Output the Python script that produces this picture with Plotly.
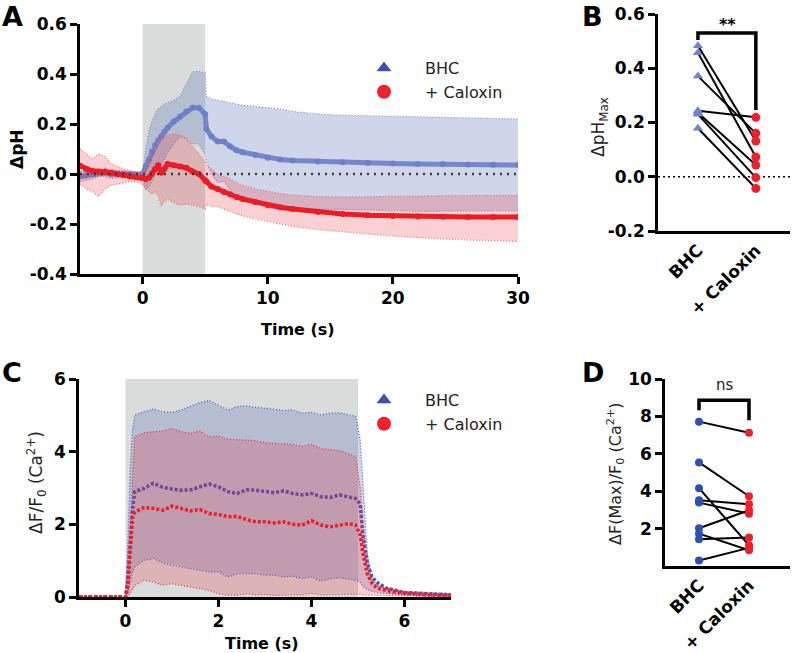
import plotly.graph_objects as go

# ---------------- data ----------------
# Panel A: dpH over time, mean with SEM band
a_time = [-5, -4.5, -4, -3.5, -3, -2.5, -2, -1.5, -1, -0.5, 0, 0.25, 0.5, 0.75, 1, 1.25,
          1.5, 1.75, 2, 2.5, 3, 3.5, 4, 4.5, 5, 5.1, 5.5, 6, 6.5, 7, 7.5, 8, 9, 10, 11, 12,
          14, 16, 18, 20, 22, 24, 26, 28, 30]
a_bhc_mean = [-0.01, -0.005, 0.0, 0.005, 0.005, 0.0, 0.0, 0.0, -0.005, -0.005, 0.0, 0.03, 0.055,
              0.09, 0.115, 0.135, 0.15, 0.17, 0.185, 0.21, 0.23, 0.25, 0.265, 0.265, 0.24, 0.18,
              0.15, 0.13, 0.13, 0.11, 0.095, 0.087, 0.076, 0.065, 0.058, 0.054, 0.05, 0.047,
              0.044, 0.042, 0.04, 0.04, 0.038, 0.037, 0.036]
a_bhc_hi = [0.01, 0.015, 0.02, 0.02, 0.02, 0.018, 0.015, 0.012, 0.01, 0.008, 0.005, 0.1, 0.17,
            0.21, 0.24, 0.26, 0.27, 0.28, 0.285, 0.295, 0.31, 0.36, 0.41, 0.41, 0.405, 0.31,
            0.30, 0.295, 0.29, 0.285, 0.28, 0.275, 0.27, 0.265, 0.26, 0.25, 0.24, 0.235, 0.233,
            0.23, 0.23, 0.228, 0.225, 0.222, 0.22]
a_bhc_lo = [-0.03, -0.025, -0.02, -0.01, -0.01, -0.018, -0.015, -0.012, -0.02, -0.018, -0.005,
            -0.06, -0.05, -0.03, 0.0, 0.01, 0.03, 0.06, 0.085, 0.12, 0.15, 0.14, 0.12, 0.12,
            0.075, 0.05, 0.0, -0.035, -0.03, -0.065, -0.09, -0.10, -0.118, -0.135, -0.144,
            -0.142, -0.14, -0.141, -0.145, -0.146, -0.15, -0.148, -0.149, -0.148, -0.148]
a_cal_mean = [0.033, 0.02, 0.012, 0.01, 0.01, 0.005, 0.0, -0.005, -0.01, -0.013, -0.015, -0.02,
              -0.015, 0.0, 0.02, 0.035, 0.005, 0.02, 0.04, 0.035, 0.03, 0.025, 0.01, 0.0, -0.025,
              -0.03, -0.05, -0.06, -0.072, -0.082, -0.092, -0.1, -0.112, -0.124, -0.133, -0.14,
              -0.152, -0.16, -0.165, -0.168, -0.17, -0.171, -0.172, -0.172, -0.172]
a_cal_hi = [0.10, 0.08, 0.06, 0.08, 0.07, 0.04, 0.03, 0.02, 0.015, 0.008, 0.0, 0.02, 0.06, 0.09,
            0.10, 0.12, 0.14, 0.15, 0.155, 0.16, 0.155, 0.14, 0.11, 0.08, 0.05, 0.035, 0.02,
            0.0, -0.01, -0.02, -0.035, -0.045, -0.06, -0.07, -0.078, -0.084, -0.09, -0.092,
            -0.09, -0.09, -0.088, -0.087, -0.086, -0.085, -0.085]
a_cal_lo = [-0.04, -0.06, -0.07, -0.09, -0.06, -0.045, -0.04, -0.035, -0.03, -0.03, -0.04, -0.06,
            -0.07, -0.08, -0.07, -0.09, -0.13, -0.11, -0.10, -0.115, -0.125, -0.12, -0.125,
            -0.13, -0.14, -0.12, -0.13, -0.13, -0.14, -0.15, -0.16, -0.168, -0.18, -0.19, -0.2,
            -0.21, -0.222, -0.232, -0.24, -0.248, -0.255, -0.26, -0.264, -0.267, -0.27]

# Panel B: peak dpH per cell, paired
groups = ["BHC", "+ Caloxin"]
b_bhc = [0.483, 0.457, 0.371, 0.243, 0.236, 0.230, 0.179]
b_cal = [0.132, 0.073, 0.160, 0.219, 0.043, -0.003, -0.043]

# Panel C: Ca2+ dF/F0 over time, mean with SEM band
c_time = [-1, -0.5, 0, 0.05, 0.1, 0.15, 0.2, 0.4, 0.6, 0.8, 1.0, 1.2, 1.4, 1.6, 1.8, 2.0, 2.2,
          2.4, 2.6, 2.8, 3.0, 3.2, 3.4, 3.6, 3.8, 4.0, 4.2, 4.4, 4.6, 4.8, 4.95, 5.05, 5.1,
          5.2, 5.3, 5.4, 5.6, 6, 6.5, 7]
c_bhc_mean = [0, 0, 0, 0.5, 1.6, 2.4, 2.9, 2.99, 3.13, 3.02, 2.97, 2.94, 2.95, 3.03, 3.11, 3.03,
              2.9, 2.85, 2.95, 2.94, 2.9, 2.87, 2.92, 2.85, 2.81, 2.85, 2.76, 2.74, 2.81, 2.76,
              2.71, 2.55, 1.75, 0.93, 0.55, 0.41, 0.25, 0.12, 0.08, 0.06]
c_bhc_hi = [0.03, 0.03, 0.03, 1.5, 3.5, 4.6, 5.0, 5.1, 5.17, 5.1, 5.08, 5.15, 5.24, 5.35, 5.41,
            5.28, 5.15, 5.24, 5.26, 5.22, 5.2, 5.17, 5.13, 5.15, 5.06, 5.08, 5.01, 5.06, 5.07,
            5.01, 4.97, 4.3, 3.2, 1.2, 0.5, 0.35, 0.25, 0.15, 0.12, 0.1]
c_bhc_lo = [0, 0, 0, 0.1, 0.4, 0.7, 0.83, 1.01, 1.06, 0.94, 0.87, 0.83, 0.78, 0.74, 0.69, 0.69,
            0.55, 0.64, 0.65, 0.64, 0.6, 0.6, 0.55, 0.57, 0.5, 0.55, 0.44, 0.5, 0.53, 0.48, 0.46,
            0.4, 0.3, 0.2, 0.15, 0.12, 0.1, 0.05, 0.03, 0.02]
c_cal_mean = [0, 0, 0, 0.3, 1.3, 2.2, 2.34, 2.46, 2.44, 2.39, 2.5, 2.44, 2.37, 2.41, 2.3, 2.27,
              2.21, 2.22, 2.13, 2.07, 2.07, 2.04, 2.07, 2.0, 1.98, 2.1, 1.98, 1.93, 1.98, 2.02,
              1.98, 1.7, 1.24, 0.64, 0.38, 0.25, 0.18, 0.1, 0.06, 0.04]
c_cal_hi = [0.03, 0.03, 0.03, 0.5, 1.5, 3.3, 4.41, 4.52, 4.55, 4.57, 4.64, 4.55, 4.5, 4.57, 4.41,
            4.43, 4.34, 4.34, 4.32, 4.3, 4.25, 4.23, 4.22, 4.2, 4.15, 4.2, 4.09, 4.05, 4.03, 3.94,
            3.86, 3.0, 2.0, 0.9, 0.45, 0.3, 0.25, 0.15, 0.1, 0.08]
c_cal_lo = [0, 0, 0, 0, 0.1, 0.2, 0.32, 0.46, 0.41, 0.32, 0.37, 0.32, 0.28, 0.23, 0.18, 0.09,
            0.05, 0.05, 0.09, 0.06, 0.07, 0.05, 0.05, 0.06, 0.06, 0.1, 0.06, 0.06, 0.07, 0.08,
            0.08, 0.07, 0.06, 0.05, 0.05, 0.04, 0.04, 0.03, 0.02, 0.01]

# Panel D: peak Ca2+ response per cell, paired
d_bhc = [7.72, 5.54, 4.16, 3.51, 3.39, 2.02, 1.73, 1.43, 0.29]
d_cal = [7.13, 3.73, 1.11, 3.30, 2.80, 2.98, 0.84, 1.52, 0.97]

# ticks
a_xticks = [0, 10, 20, 30]
a_yticks = [-0.4, -0.2, 0.0, 0.2, 0.4, 0.6]
a_yticklabels = ["-0.4", "-0.2", "0.0", "0.2", "0.4", "0.6"]
b_yticks = [-0.2, 0.0, 0.2, 0.4, 0.6]
b_yticklabels = ["-0.2", "0.0", "0.2", "0.4", "0.6"]
c_xticks = [0, 2, 4, 6]
c_yticks = [0, 2, 4, 6]
d_yticks = [2, 4, 6, 8, 10]

stim_start, stim_end = 0, 5

W, H = 792, 653
FONT = "DejaVu Sans"
BLUE_FILL = "rgba(98,118,185,0.30)"
RED_FILL = "rgba(235,40,50,0.22)"


def px(x):
    return x / W


def py(y):
    return 1 - y / H


fig = go.Figure()


def add_band(t, lo, hi, fill, edge, xa, ya):
    fig.add_trace(go.Scatter(x=t + t[::-1], y=hi + lo[::-1], fill="toself", fillcolor=fill,
                             mode="lines", line=dict(width=0), showlegend=False,
                             hoverinfo="skip", xaxis=xa, yaxis=ya))
    for edge_y in (hi, lo):
        fig.add_trace(go.Scatter(x=t, y=edge_y, mode="lines",
                                 line=dict(color=edge, width=1.2, dash="1px,2px"),
                                 showlegend=False, hoverinfo="skip", xaxis=xa, yaxis=ya))


# ---- panel A
add_band(a_time, a_bhc_lo, a_bhc_hi, BLUE_FILL, "#7b8fd6", "x", "y")
fig.add_trace(go.Scatter(x=a_time, y=a_bhc_mean, mode="lines+markers",
                         line=dict(color="rgba(108,128,200,0.9)", width=5),
                         marker=dict(size=6, color="rgba(108,128,200,0.9)"),
                         showlegend=False, xaxis="x", yaxis="y"))
add_band(a_time, a_cal_lo, a_cal_hi, RED_FILL, "#f06a72", "x", "y")
fig.add_trace(go.Scatter(x=a_time, y=a_cal_mean, mode="lines+markers",
                         line=dict(color="#e91d25", width=5),
                         marker=dict(size=6, color="#e91d25"),
                         showlegend=False, xaxis="x", yaxis="y"))

# ---- panel B
b_x, b_y = [], []
for v0, v1 in zip(b_bhc, b_cal):
    b_x += [groups[0], groups[1], None]
    b_y += [v0, v1, None]
fig.add_trace(go.Scatter(x=b_x, y=b_y, mode="lines", line=dict(color="black", width=2),
                         showlegend=False, xaxis="x2", yaxis="y2"))
fig.add_trace(go.Scatter(x=[groups[0]] * len(b_bhc), y=b_bhc, mode="markers",
                         marker=dict(symbol="triangle-up", size=9, color="#6e84cc"),
                         showlegend=False, xaxis="x2", yaxis="y2"))
fig.add_trace(go.Scatter(x=[groups[1]] * len(b_cal), y=b_cal, mode="markers",
                         marker=dict(symbol="circle", size=9, color="#f0202a"),
                         showlegend=False, xaxis="x2", yaxis="y2"))

# ---- panel C
add_band(c_time, c_bhc_lo, c_bhc_hi, BLUE_FILL, "#3f5fd0", "x3", "y3")
fig.add_trace(go.Scatter(x=c_time, y=c_bhc_mean, mode="lines",
                         line=dict(color="#4a50b8", width=3.5, dash="3px,2px"),
                         showlegend=False, xaxis="x3", yaxis="y3"))
add_band(c_time, c_cal_lo, c_cal_hi, RED_FILL, "#f03040", "x3", "y3")
fig.add_trace(go.Scatter(x=c_time, y=c_cal_mean, mode="lines",
                         line=dict(color="#f01c28", width=3.5, dash="3px,2px"),
                         showlegend=False, xaxis="x3", yaxis="y3"))

# ---- panel D
d_x, d_y = [], []
for v0, v1 in zip(d_bhc, d_cal):
    d_x += [groups[0], groups[1], None]
    d_y += [v0, v1, None]
fig.add_trace(go.Scatter(x=d_x, y=d_y, mode="lines", line=dict(color="black", width=2),
                         showlegend=False, xaxis="x4", yaxis="y4"))
fig.add_trace(go.Scatter(x=[groups[0]] * len(d_bhc), y=d_bhc, mode="markers",
                         marker=dict(symbol="circle", size=8, color="#2f4fb4"),
                         showlegend=False, xaxis="x4", yaxis="y4"))
fig.add_trace(go.Scatter(x=[groups[1]] * len(d_cal), y=d_cal, mode="markers",
                         marker=dict(symbol="circle", size=8, color="#f0202a"),
                         showlegend=False, xaxis="x4", yaxis="y4"))

# legend entries
for leg, xa, ya in (("legend", "x", "y"), ("legend2", "x3", "y3")):
    fig.add_trace(go.Scatter(x=[None], y=[None], mode="markers", name="BHC", legend=leg,
                             marker=dict(symbol="triangle-up", size=13, color="#3652b0"),
                             xaxis=xa, yaxis=ya))
    fig.add_trace(go.Scatter(x=[None], y=[None], mode="markers", name="+ Caloxin", legend=leg,
                             marker=dict(symbol="circle", size=14, color="#ee2228"),
                             xaxis=xa, yaxis=ya))

tickfont = dict(family=FONT, size=17, color="black", weight="bold")
axis_common = dict(showline=True, linewidth=2.5, linecolor="black", ticks="outside",
                   ticklen=7, tickwidth=2.5, tickcolor="black", showgrid=False,
                   zeroline=False, tickfont=tickfont)

legend_common = dict(xanchor="left", yanchor="top", bgcolor="rgba(0,0,0,0)",
                     font=dict(family=FONT, size=16, color="#222"), itemwidth=72,
                     tracegroupgap=0, itemclick=False)

fig.update_layout(
    width=W, height=H, margin=dict(l=0, r=0, t=0, b=0, autoexpand=False),
    paper_bgcolor="white", plot_bgcolor="white",
    font=dict(family=FONT, color="black"),
    xaxis=dict(domain=[px(80), px(518)], range=[-5, 30], tickvals=a_xticks,
               anchor="y", **axis_common),
    yaxis=dict(domain=[py(274), py(24)], range=[-0.4, 0.6], tickvals=a_yticks,
               ticktext=a_yticklabels, anchor="x", **axis_common),
    xaxis2=dict(domain=[px(658), px(790)], type="category", categoryorder="array",
                categoryarray=groups, range=[-0.69, 1.59], tickangle=-45,
                anchor="y2", **{**axis_common, "ticks": ""}),
    yaxis2=dict(domain=[py(231), py(14)], range=[-0.2, 0.6], tickvals=b_yticks,
                ticktext=b_yticklabels, anchor="x2", **axis_common),
    xaxis3=dict(domain=[px(79), px(451)], range=[-1, 7], tickvals=c_xticks,
                anchor="y3", **axis_common),
    yaxis3=dict(domain=[py(597), py(379)], range=[0, 6], tickvals=c_yticks,
                anchor="x3", **axis_common),
    xaxis4=dict(domain=[px(665), px(790)], type="category", categoryorder="array",
                categoryarray=groups, range=[-0.68, 1.82], tickangle=-45,
                anchor="y4", **{**axis_common, "ticks": ""}),
    yaxis4=dict(domain=[py(566), py(379)], range=[0, 10], tickvals=d_yticks,
                anchor="x4", **axis_common),
    legend=dict(x=px(343), y=py(51), **legend_common),
    legend2=dict(x=px(343), y=py(383), **legend_common),
)

# stimulus windows
for xa, ya in (("x", "y"), ("x3", "y3")):
    fig.add_shape(type="rect", xref=xa, yref=f"{ya} domain", x0=stim_start, x1=stim_end,
                  y0=0, y1=1, fillcolor="#d9dcdb", line=dict(width=0), layer="below")

# zero reference lines
fig.add_shape(type="line", xref="x domain", yref="y", x0=0, x1=1, y0=0, y1=0,
              line=dict(color="#3a3a3a", width=2.5, dash="2px,5px"), layer="above")
fig.add_shape(type="line", xref="x2 domain", yref="y2", x0=0, x1=1, y0=0, y1=0,
              line=dict(color="black", width=1.6, dash="2px,3px"), layer="below")

# significance brackets
fig.add_shape(type="path", xref="x2", yref="y2", path="M 0,0.504 L 0,0.53 L 1,0.53 L 1,0.246",
              line=dict(color="black", width=3.5))
fig.add_shape(type="path", xref="x4", yref="y4", path="M 0,8.33 L 0,8.87 L 1,8.87 L 1,7.8",
              line=dict(color="black", width=3.5))

annots = [
    # panel letters
    dict(text="<b>A</b>", x=px(12), y=py(16), size=27),
    dict(text="<b>B</b>", x=px(592), y=py(16), size=27),
    dict(text="<b>C</b>", x=px(12), y=py(372), size=27),
    dict(text="<b>D</b>", x=px(593), y=py(372), size=27),
    # axis titles
    dict(text="<b>ΔpH</b>", x=px(17), y=py(149), size=17, angle=-90),
    dict(text="<b>Time (s)</b>", x=px(298), y=py(329), size=16),
    dict(text="ΔpH<sub>Max</sub>", x=px(600), y=py(127), size=17, angle=-90, color="#222"),
    dict(text="ΔF/F<sub>0</sub> (Ca<sup>2+</sup>)", x=px(36), y=py(483), size=17, angle=-90,
         color="#222"),
    dict(text="<b>Time (s)</b>", x=px(262), y=py(643), size=16),
    dict(text="ΔF(Max)/F<sub>0</sub> (Ca<sup>2+</sup>)", x=px(615), y=py(474), size=16,
         angle=-90, color="#222"),
    # significance
    dict(text="<b>**</b>", x=px(727), y=py(25), size=16),
    dict(text="ns", x=px(725), y=py(385), size=15, color="#222"),
]
for a in annots:
    fig.add_annotation(text=a["text"], x=a["x"], y=a["y"], xref="paper", yref="paper",
                       xanchor="center", yanchor="middle", showarrow=False,
                       textangle=a.get("angle", 0),
                       font=dict(family=FONT, size=a["size"], color=a.get("color", "black")))

# the page body has a default 8px margin; drop it so the figure fills the window
fig.write_html("out.html", config={"displayModeBar": False},
               post_script="document.body.style.margin = '0px';")
